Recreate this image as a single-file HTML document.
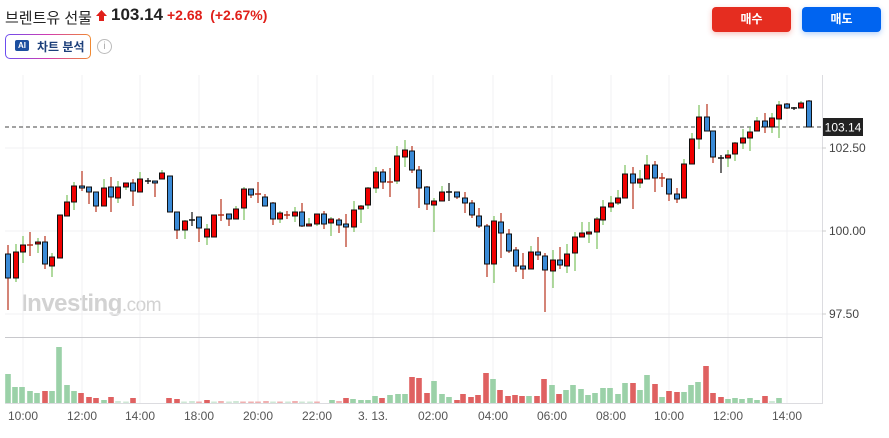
<!DOCTYPE html>
<html><head><meta charset="utf-8">
<style>
body{margin:0;width:889px;height:438px;background:#fff;overflow:hidden;position:relative;font-family:"Liberation Sans","Noto Sans CJK KR",sans-serif;}
.t{position:absolute;white-space:nowrap}
</style></head><body>
<div class="t" style="left:5px;top:7px;font-size:15px;color:#222;">브렌트유 선물</div>
<svg style="position:absolute;left:96px;top:10px" width="11" height="11"><polygon points="5.5,0 11,6 8,6 8,11 3,11 3,6 0,6" fill="#e0201a"/></svg>
<div class="t" style="left:111px;top:5px;font-size:17px;font-weight:bold;color:#222;">103.14</div>
<div class="t" style="left:167px;top:7px;font-size:14px;font-weight:bold;color:#e0201a;">+2.68 &nbsp;(+2.67%)</div>
<div style="position:absolute;left:5px;top:34px;width:86px;height:25px;border-radius:5px;background:linear-gradient(90deg,#6a4df0,#d23cb0,#f08a30);"></div>
<div style="position:absolute;left:6px;top:35px;width:84px;height:23px;border-radius:4px;background:#fff;"></div>
<div style="position:absolute;left:15px;top:40px;width:14px;height:11px;background:#1c4fa0;border-radius:2px;color:#fff;font-size:8px;font-weight:bold;text-align:center;line-height:11px;">AI</div>
<div class="t" style="left:37px;top:38px;font-size:12px;font-weight:bold;color:#1c3f7a;">차트 분석</div>
<div style="position:absolute;left:97px;top:39px;width:13px;height:13px;border:1px solid #bbb;border-radius:50%;color:#aaa;font-size:10px;text-align:center;line-height:13px;">i</div>
<div style="position:absolute;left:712px;top:7px;width:79px;height:25px;background:#e52d20;border-radius:4px;color:#fff;font-size:12px;font-weight:bold;text-align:center;line-height:25px;box-shadow:0 2px 6px rgba(229,45,32,.3)">매수</div>
<div style="position:absolute;left:802px;top:7px;width:79px;height:25px;background:#0064f0;border-radius:4px;color:#fff;font-size:12px;font-weight:bold;text-align:center;line-height:25px;box-shadow:0 2px 6px rgba(0,100,240,.3)">매도</div>
<div class="t" style="left:21px;top:290px;font-size:24px;font-weight:bold;color:#d2d2d2;letter-spacing:-0.5px">Investing<span style="font-weight:normal;font-size:19px">.com</span></div>
<svg id="c" style="position:absolute;left:0;top:0" width="889" height="438"></svg>
<script>
var s='';
var vx=[23,82,140,199,258,317,373,433,493,552,611,669,728,787];
vx.forEach(function(x){s+='<line x1="'+x+'" y1="75" x2="'+x+'" y2="403" stroke="#f0f0f3" stroke-width="1"/>';});
[148,231,314].forEach(function(y){s+='<line x1="5" y1="'+y+'" x2="822" y2="'+y+'" stroke="#f0f0f3"/>';});
s+='<line x1="5" y1="337.5" x2="822" y2="337.5" stroke="#c8c8cc"/>';
s+='<line x1="5" y1="403.5" x2="822" y2="403.5" stroke="#dcdce0"/>';
s+='<line x1="822.5" y1="75" x2="822.5" y2="404" stroke="#dcdce0"/>';
var C=[[8,'b',254,278,245,310],[16,'r',252,278,244,282],[23,'r',245,252,236,263],[30,'d',245,245,232,256],[38,'r',242,244,238,253],[45,'b',242,264,236,269],[52,'r',257,266,253,277],[60,'r',215,258,215,258],[67,'r',202,216,195,216],[74,'r',186,202,182,210],[82,'b',186,188,171,191],[89,'b',187,192,187,204],[96,'b',192,206,192,212],[104,'r',188,206,179,206],[111,'b',187,197,177,212],[118,'r',187,198,181,203],[126,'r',183,187,183,190],[133,'b',183,191,179,206],[140,'r',179,192,172,192],[148,'k',181,181,178,184],[155,'b',181,183,181,197],[162,'r',173,179,170,179],[170,'b',176,212,176,212],[177,'b',212,230,212,239],[185,'r',221,230,220,239],[192,'k',220,220,212,226],[199,'b',217,228,217,242],[207,'r',229,237,224,245],[214,'r',215,237,215,237],[221,'d',215,216,199,221],[229,'b',214,219,214,226],[236,'r',209,219,206,219],[244,'r',189,208,187,220],[251,'b',189,195,189,198],[258,'d',194,194,182,203],[265,'b',197,206,194,206],[273,'b',203,219,202,225],[280,'r',213,219,211,223],[287,'d',215,215,211,219],[295,'r',212,216,207,222],[302,'b',212,226,203,227],[309,'r',224,226,218,226],[317,'r',214,224,214,226],[324,'b',214,224,211,229],[331,'r',219,223,217,236],[339,'b',220,225,218,233],[346,'b',224,227,214,247],[354,'r',210,227,201,232],[361,'r',206,209,205,223],[368,'r',188,205,187,209],[376,'r',172,188,167,193],[383,'b',172,182,169,189],[390,'d',182,182,168,197],[397,'r',156,181,146,184],[405,'r',150,157,140,167],[412,'b',151,170,146,173],[419,'b',170,188,166,208],[427,'b',187,204,186,210],[434,'r',201,205,198,232],[442,'r',192,201,186,201],[449,'k',192,192,183,201],[457,'b',192,197,192,199],[465,'b',198,203,192,213],[472,'b',203,215,200,218],[479,'b',216,226,208,228],[487,'b',226,264,224,277],[494,'r',221,264,216,283],[501,'b',222,233,213,258],[509,'b',234,251,229,253],[516,'b',250,266,247,272],[523,'b',266,269,253,279],[531,'r',252,269,246,269],[538,'b',252,255,237,260],[545,'b',256,270,253,312],[553,'r',260,271,250,288],[560,'b',260,265,247,269],[567,'r',254,266,244,273],[575,'r',237,253,232,271],[582,'r',233,237,222,237],[589,'r',232,234,222,243],[597,'r',219,232,217,249],[603,'r',207,220,200,225],[611,'r',203,207,196,212],[618,'r',198,203,190,205],[625,'r',174,198,165,198],[633,'b',174,183,167,209],[640,'r',179,183,170,188],[647,'r',165,179,155,179],[655,'b',165,178,161,192],[662,'d',178,178,173,187],[669,'b',179,194,179,201],[677,'b',194,199,188,203],[684,'r',164,198,159,198],[692,'r',139,164,133,164],[699,'r',117,139,105,149],[707,'b',117,131,104,131],[713,'b',131,157,131,163],[721,'k',158,158,155,173],[728,'r',155,158,150,167],[735,'r',143,154,142,161],[743,'r',138,143,129,149],[750,'r',132,138,127,151],[757,'r',121,131,117,131],[765,'b',121,127,113,133],[772,'r',118,127,113,133],[779,'r',105,119,101,138],[787,'b',104,108,103,109],[794,'k',108,108,107,110],[801,'r',103,108,101,108],[809,'b',101,127,100,127]];
var V=[[8,'g',374],[15,'g',387],[22,'g',387],[30,'g',391],[37,'g',393],[45,'r',391],[52,'g',391],[59,'g',347],[67,'g',385],[74,'g',391],[81,'r',393],[89,'r',397],[96,'r',398],[104,'g',400],[111,'r',397],[118,'g',401],[126,'g',402],[133,'r',398],[169,'r',398],[177,'r',399],[184,'g',401.5],[192,'g',401],[199,'r',401.5],[207,'r',400],[214,'g',401.5],[221,'r',401],[229,'g',401.5],[236,'g',401],[243,'r',401.5],[251,'r',401.5],[258,'r',401.5],[266,'r',401],[273,'g',401.5],[280,'r',401.5],[288,'g',401.5],[295,'r',401],[302,'g',401.5],[310,'g',401.5],[317,'r',401.5],[332,'g',400],[339,'r',401],[346,'r',398],[353,'g',399],[361,'g',400],[368,'g',400],[375,'g',396],[382,'r',398],[390,'g',395],[398,'g',394],[405,'g',394],[412,'r',377],[419,'r',378],[427,'r',393],[434,'g',381],[442,'g',394],[449,'g',397],[457,'r',400],[463,'r',394],[471,'r',397],[478,'r',395],[486,'r',373],[493,'g',379],[500,'r',390],[508,'r',396],[515,'r',395],[522,'r',396],[529,'g',396],[537,'r',396],[544,'r',379],[552,'g',385],[559,'r',394],[566,'g',390],[573,'g',385],[581,'g',389],[588,'g',395],[595,'g',393],[603,'g',388],[610,'g',388],[618,'g',394],[625,'g',383],[633,'r',383],[640,'g',390],[647,'g',375],[655,'r',384],[662,'g',397],[669,'r',391],[677,'r',392],[684,'g',392],[691,'g',385],[698,'g',382],[706,'r',366],[713,'r',393],[721,'r',397],[728,'g',399],[735,'g',398],[742,'g',399],[750,'g',398],[757,'g',400],[765,'r',396],[772,'g',401],[779,'g',398]];
V.forEach(function(v){var h=403-v[2];if(h<1.5)h=1.5;var col=v[1]=='g'?'#9bd1a8':'#df6161';if(h<3)col=v[1]=='g'?'#cfe8d6':'#f0b0b0';s+='<rect x="'+(v[0]-2.8)+'" y="'+(403-h)+'" width="5.6" height="'+h+'" fill="'+col+'"/>';});
s+='<line x1="5" y1="127" x2="822" y2="127" stroke="#444" stroke-dasharray="4,3" stroke-width="1"/>';
C.forEach(function(c){var x=c[0],t=c[1];var wc=t=='r'?'#7cc05e':(t=='b'?'#b8321c':(t=='d'?'#b8321c':'#111'));
s+='<line x1="'+x+'" y1="'+c[4]+'" x2="'+x+'" y2="'+c[5]+'" stroke="'+wc+'" stroke-width="1.2"/>';
if(t=='k'||t=='d'){s+='<line x1="'+(x-3)+'" y1="'+c[2]+'" x2="'+(x+3)+'" y2="'+c[2]+'" stroke="'+(t=='k'?'#111':'#b8321c')+'" stroke-width="1.5"/>';}
else{var h=Math.max(c[3]-c[2],2);s+='<rect x="'+(x-2.5)+'" y="'+c[2]+'" width="5" height="'+h+'" fill="'+(t=='r'?'#f00000':'#3a8ad6')+'" stroke="#111" stroke-width="1"/>';}
});
s+='<rect x="823" y="118" width="40" height="18" fill="#222"/><text x="843" y="131.5" font-size="12" fill="#fff" text-anchor="middle" font-family="Liberation Sans,sans-serif">103.14</text>';
[[148,'102.50'],[231,'100.00'],[314,'97.50']].forEach(function(p){s+='<line x1="822" y1="'+p[0]+'" x2="826" y2="'+p[0]+'" stroke="#ccc"/><text x="829" y="'+(p[0]+4)+'" font-size="12" fill="#444" font-family="Liberation Sans,sans-serif">'+p[1]+'</text>';});
var L=['10:00','12:00','14:00','18:00','20:00','22:00','3. 13.','02:00','04:00','06:00','08:00','10:00','12:00','14:00'];
L.forEach(function(l,i){s+='<text x="'+vx[i]+'" y="420" font-size="12" fill="#555" text-anchor="middle" font-family="Liberation Sans,sans-serif">'+l+'</text>';});
document.getElementById('c').innerHTML=s;
</script>
</body></html>
